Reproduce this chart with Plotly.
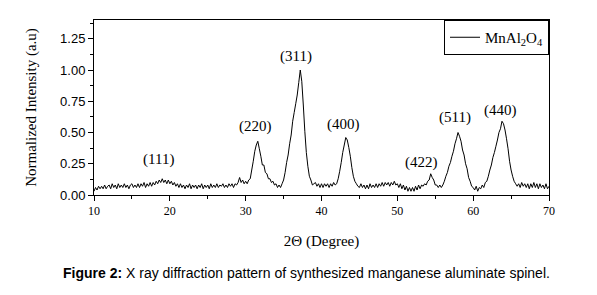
import plotly.graph_objects as go

start_deg = 10.0
step_deg = 0.2
intensity = [
    # 10
    0.03, 0.06, 0.04, 0.07, 0.05,
    0.07, 0.05, 0.08, 0.05, 0.07,
    0.08, 0.05, 0.09, 0.06, 0.08,
    0.05, 0.09, 0.06, 0.08, 0.06,
    0.09, 0.06, 0.08, 0.05, 0.08,
    # 15
    0.09, 0.06, 0.08, 0.06, 0.09,
    0.06, 0.09, 0.07, 0.10, 0.06,
    0.09, 0.07, 0.10, 0.07, 0.10,
    0.08, 0.11, 0.09, 0.12, 0.10,
    0.13, 0.10, 0.12, 0.09, 0.12,
    # 20
    0.09, 0.11, 0.08, 0.10, 0.07,
    0.09, 0.06, 0.09, 0.06, 0.08,
    0.05, 0.08, 0.06, 0.09, 0.05,
    0.08, 0.06, 0.08, 0.05, 0.08,
    0.06, 0.09, 0.05, 0.08, 0.06,
    # 25
    0.08, 0.05, 0.09, 0.06, 0.08,
    0.06, 0.09, 0.06, 0.08, 0.07,
    0.09, 0.06, 0.08, 0.06, 0.09,
    0.07, 0.09, 0.06, 0.09, 0.08,
    0.10, 0.14, 0.10, 0.12, 0.09,
    # 30
    0.11, 0.09, 0.12, 0.13, 0.20,
    0.27, 0.35, 0.40, 0.43, 0.37,
    0.31, 0.24, 0.24, 0.18, 0.17,
    0.13, 0.13, 0.10, 0.11, 0.08,
    0.09, 0.06, 0.08, 0.06, 0.09,
    # 35
    0.12, 0.18, 0.26, 0.32, 0.41,
    0.48, 0.59, 0.66, 0.73, 0.80,
    0.90, 1.00, 0.91, 0.72, 0.51,
    0.34, 0.23, 0.15, 0.12, 0.08,
    0.09, 0.10, 0.07, 0.09, 0.06,
    # 40
    0.09, 0.06, 0.09, 0.07, 0.09,
    0.06, 0.09, 0.07, 0.10, 0.08,
    0.09, 0.13, 0.19, 0.26, 0.34,
    0.40, 0.46, 0.44, 0.38, 0.31,
    0.22, 0.15, 0.11, 0.09, 0.07,
    # 45
    0.06, 0.09, 0.06, 0.08, 0.05,
    0.08, 0.05, 0.09, 0.06, 0.08,
    0.06, 0.09, 0.06, 0.09, 0.07,
    0.10, 0.07, 0.10, 0.08, 0.10,
    0.07, 0.10, 0.08, 0.11, 0.08,
    # 50
    0.09, 0.06, 0.09, 0.05, 0.08,
    0.04, 0.07, 0.03, 0.06, 0.03,
    0.06, 0.03, 0.07, 0.04, 0.08,
    0.05, 0.08, 0.07, 0.09, 0.08,
    0.11, 0.12, 0.17, 0.14, 0.12,
    # 55
    0.08, 0.08, 0.06, 0.08, 0.06,
    0.08, 0.11, 0.15, 0.18, 0.23,
    0.26, 0.31, 0.35, 0.41, 0.45,
    0.50, 0.47, 0.43, 0.36, 0.32,
    0.25, 0.21, 0.14, 0.11, 0.07,
    # 60
    0.06, 0.04, 0.07, 0.03, 0.06,
    0.05, 0.08, 0.06, 0.10, 0.11,
    0.15, 0.20, 0.24, 0.30, 0.34,
    0.39, 0.44, 0.50, 0.53, 0.59,
    0.57, 0.52, 0.45, 0.37, 0.27,
    # 65
    0.20, 0.15, 0.11, 0.09, 0.07,
    0.09, 0.06, 0.10, 0.07, 0.09,
    0.06, 0.09, 0.05, 0.09, 0.06,
    0.10, 0.06, 0.09, 0.05, 0.09,
    0.06, 0.08, 0.05, 0.09, 0.05,
    # 70
    0.07,
]
two_theta = [round(start_deg + step_deg * i, 1) for i in range(len(intensity))]

peak_labels = ["(111)", "(220)", "(311)", "(400)", "(422)", "(511)", "(440)"]
label_x = [18.5, 31.25, 36.7, 42.9, 53.2, 57.6, 63.65]
label_y = [0.285, 0.55, 1.11, 0.565, 0.263, 0.62, 0.677]

series_name = "MnAl<sub>2</sub>O<sub>4</sub>"
x_title = "2Θ (Degree)"
y_title = "Normalized Intensity (a.u)"
caption = "<b>Figure 2:</b> X ray diffraction pattern of synthesized manganese aluminate spinel."

SERIF = "Liberation Serif, Times New Roman, serif"
SANS = "Liberation Sans, Arial, sans-serif"

fig = go.Figure()
fig.add_trace(go.Scatter(
    x=two_theta, y=intensity, mode="lines", name=series_name,
    line=dict(color="black", width=1, simplify=False),
))

for t, lx, ly in zip(peak_labels, label_x, label_y):
    fig.add_annotation(x=lx, y=ly, text=t, showarrow=False,
                       font=dict(family=SERIF, size=15, color="black"),
                       xanchor="center", yanchor="middle")

fig.add_annotation(xref="paper", yref="paper", x=0.466, y=-0.443,
                   text=caption, showarrow=False,
                   font=dict(family=SANS, size=14, color="black"),
                   xanchor="center", yanchor="middle")

# the page body adds 8 px of margin, so the figure is 8 px smaller each way
fig.update_layout(
    width=589, height=287,
    margin=dict(l=86, r=48, t=12, b=100),
    paper_bgcolor="white", plot_bgcolor="white",
    showlegend=True,
    legend=dict(x=1, y=1, xanchor="right", yanchor="top",
                bordercolor="black", borderwidth=1, bgcolor="white",
                font=dict(family=SERIF, size=15, color="black"),
                tracegroupgap=0, itemwidth=30),
    xaxis=dict(
        range=[10, 70], tickmode="array", tickvals=[10, 20, 30, 40, 50, 60, 70],
        ticks="outside", ticklen=5, tickcolor="black", showgrid=False,
        zeroline=False, showline=True, linecolor="black", linewidth=1, mirror=True,
        tickfont=dict(family=SERIF, size=12, color="black"),
        minor=dict(tickvals=[15, 25, 35, 45, 55, 65], ticks="outside", ticklen=3,
                   tickcolor="black", showgrid=False),
        title=dict(text=x_title, font=dict(family=SERIF, size=15, color="black"),
                   standoff=18),
    ),
    yaxis=dict(
        range=[0, 1.4], tickmode="array", tickvals=[0, 0.25, 0.5, 0.75, 1.0, 1.25],
        ticktext=["0.00", "0.25", "0.50", "0.75", "1.00", "1.25"],
        ticks="outside", ticklen=5, tickcolor="black", showgrid=False,
        zeroline=False, showline=True, linecolor="black", linewidth=1, mirror=True,
        tickfont=dict(family=SANS, size=13, color="black"),
        minor=dict(tickvals=[0.125, 0.375, 0.625, 0.875, 1.125, 1.375], ticks="outside",
                   ticklen=3, tickcolor="black", showgrid=False),
        title=dict(text=y_title, font=dict(family=SERIF, size=15, color="black"),
                   standoff=19),
    ),
)

fig.write_html("out.html")
